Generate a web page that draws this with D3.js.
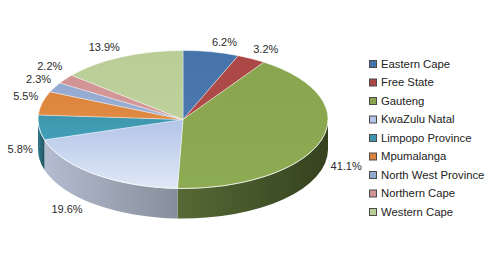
<!DOCTYPE html>
<html>
<head>
    <style>
        body { margin: 0; background: #fff; }
        svg { display: block; font-family: "Liberation Sans", Arial, sans-serif; }
    </style>
</head>
<body>
    <svg width="500" height="258"></svg>

    <script src="https://d3js.org/d3.v7.min.js"></script>
    <script>
        // Share by province (%), clockwise from 12 o'clock
        const provinces = ["Eastern Cape", "Free State", "Gauteng", "KwaZulu Natal", "Limpopo Province",
                           "Mpumalanga", "North West Province", "Northern Cape", "Western Cape"];
        const shares = [6.2, 3.2, 41.1, 19.6, 5.8, 5.5, 2.3, 2.2, 13.9];

        const colors = ["#4673a9", "#ab4744", "#89a54f", "#b3c4e8", "#3e96ae", "#dc843d", "#93a9d0", "#d19393", "#b9cd97"];
        const lightColors = ["#4a78af", "#b04b48", "#8dab53", "#e0e8f6", "#42a0b8", "#e08a44", "#9aafd4", "#d69a9a", "#bed19c"];
        const wallLight = ["#3a5e8c", "#8c3a38", "#566a36", "#b3bcd0", "#317a8e", "#b46c32", "#7a8cab", "#ac7979", "#98a97c"];
        const wallDark = ["#26405f", "#5e2726", "#34421e", "#878e9b", "#21525f", "#7a4922", "#525f74", "#755252", "#67735a"];

        const svg = d3.select("svg");
        const defs = svg.append("defs");

        const cx = 183, cy = 119.5, rx = 145, ry = 69, depth = 30;

        const pie = d3.pie().sort(null).value(d => d);
        const arcs = pie(shares).map((d, i) => ({ ...d, i, name: provinces[i] }));

        const px = a => cx + rx * Math.sin(a);
        const py = a => cy - ry * Math.cos(a);

        // gradients
        arcs.forEach(d => {
            const gt = defs.append("linearGradient").attr("id", "top" + d.i)
                .attr("x1", 0).attr("y1", 0).attr("x2", 0).attr("y2", 1);
            gt.append("stop").attr("offset", "0%").attr("stop-color", colors[d.i]);
            gt.append("stop").attr("offset", "100%").attr("stop-color", lightColors[d.i]);
            const gw = defs.append("linearGradient").attr("id", "wall" + d.i)
                .attr("x1", 0).attr("y1", 0).attr("x2", 1).attr("y2", 0);
            gw.append("stop").attr("offset", "0%").attr("stop-color", wallLight[d.i]);
            gw.append("stop").attr("offset", "100%").attr("stop-color", wallDark[d.i]);
        });

        // front side walls (visible between 90deg and 270deg)
        const lo = Math.PI / 2, hi = 3 * Math.PI / 2;
        const walls = arcs.map(d => {
            const a = Math.max(d.startAngle, lo), b = Math.min(d.endAngle, hi);
            return { i: d.i, a, b };
        }).filter(w => w.b > w.a);

        svg.append("g").selectAll("path")
            .data(walls)
            .join("path")
            .attr("d", w => `M${px(w.a)},${py(w.a)} A${rx},${ry} 0 0 1 ${px(w.b)},${py(w.b)}` +
                            ` L${px(w.b)},${py(w.b) + depth} A${rx},${ry} 0 0 0 ${px(w.a)},${py(w.a) + depth} Z`)
            .attr("fill", w => `url(#wall${w.i})`);

        // top faces
        svg.append("g").selectAll("path")
            .data(arcs)
            .join("path")
            .attr("d", d => {
                const large = d.endAngle - d.startAngle > Math.PI ? 1 : 0;
                return `M${cx},${cy} L${px(d.startAngle)},${py(d.startAngle)}` +
                       ` A${rx},${ry} 0 ${large} 1 ${px(d.endAngle)},${py(d.endAngle)} Z`;
            })
            .attr("fill", d => `url(#top${d.i})`)
            .attr("stroke", "rgba(255,255,255,0.55)")
            .attr("stroke-width", 0.7);

        // rim highlight on the front edge
        svg.append("path")
            .attr("d", `M${px(lo)},${py(lo)} A${rx},${ry} 0 0 1 ${px(hi)},${py(hi)}`)
            .attr("fill", "none")
            .attr("stroke", "rgba(255,255,255,0.6)")
            .attr("stroke-width", 1);

        // data labels
        const labels = arcs.map(d => {
            const m = (d.startAngle + d.endAngle) / 2;
            const s = Math.sin(m), c = Math.cos(m);
            const gapX = 4 + 20 * Math.max(0, -c);
            let x = cx + (rx + gapX) * s;
            let y = cy - (ry + 4) * c;
            if (c >= 0) y -= 6;
            else y += 6 + depth * (0.45 - 0.5 * c);
            return { m, s, c, x, y, text: d.data.toFixed(1) + "%" };
        });
        // push apart labels on the left side going upward
        const left = labels.filter(l => l.s < 0 && l.c > 0).sort((a, b) => b.y - a.y);
        for (let k = 1; k < left.length; k++) {
            if (left[k - 1].y - left[k].y < 13) left[k].y = left[k - 1].y - 13;
        }

        svg.append("g").selectAll("text")
            .data(labels)
            .join("text")
            .attr("x", l => l.x)
            .attr("y", l => l.y)
            .attr("dy", "0.35em")
            .attr("text-anchor", l => Math.abs(l.s) < 0.05 ? "middle" : (l.s > 0 ? "start" : "end"))
            .attr("font-size", 11)
            .attr("fill", "#2a2a2a")
            .text(l => l.text);

        // legend
        const ly = d3.scalePoint().domain(provinces).range([64, 212]);
        const legend = svg.append("g").selectAll("g")
            .data(provinces)
            .join("g")
            .attr("transform", p => `translate(369,${ly(p)})`);
        legend.append("rect")
            .attr("x", 0.5).attr("y", -3.5)
            .attr("width", 7).attr("height", 7)
            .attr("fill", (p, i) => colors[i])
            .attr("stroke", "#4a4a4a")
            .attr("stroke-width", 1);
        legend.append("text")
            .attr("x", 12)
            .attr("dy", "0.35em")
            .attr("font-size", 11.3)
            .attr("fill", "#222")
            .text(p => p);
    </script>
</body>
</html>
